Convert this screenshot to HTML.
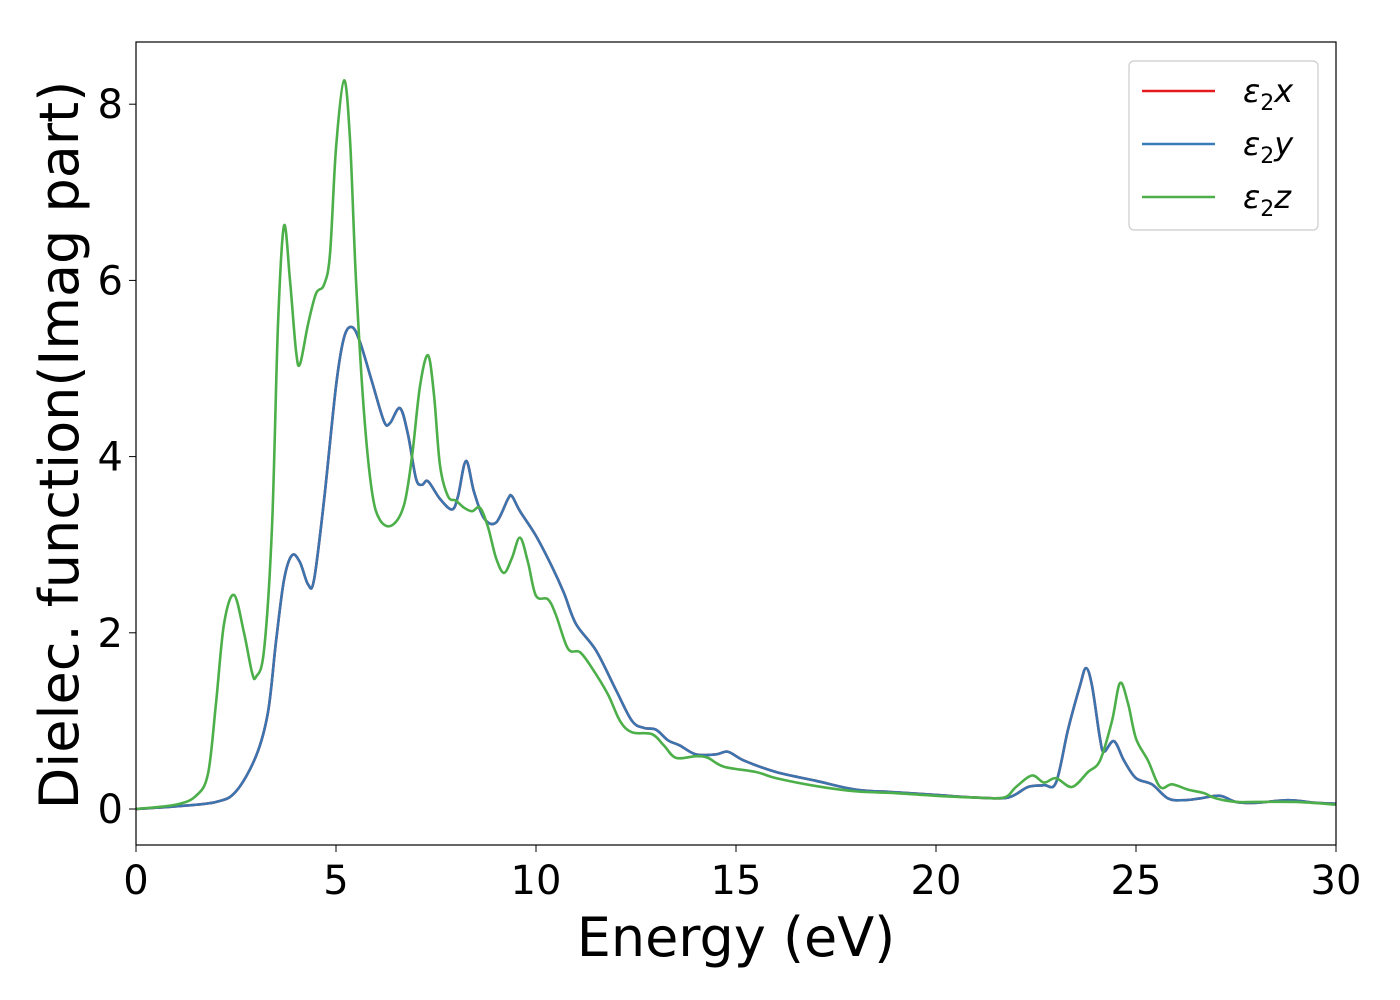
<!DOCTYPE html>
<html><head><meta charset="utf-8"><style>
body{margin:0;background:#fff;}
svg{display:block;font-family:"DejaVu Sans","Liberation Sans",sans-serif;}
</style></head><body>
<svg id="chart" width="1400" height="1000" xmlns="http://www.w3.org/2000/svg">
<g id="series"></g>
<rect x="136" y="42" width="1200" height="803" fill="none" stroke="#000" stroke-width="1.2"/>
<g id="xticks"></g>
<g id="yticks"></g>
<text x="736" y="956" font-size="54" text-anchor="middle">Energy (eV)</text>
<text transform="translate(78,445) rotate(-90)" font-size="54" text-anchor="middle">Dielec. function(Imag part)</text>
<g>
<rect x="1129" y="61" width="189" height="169" rx="5" fill="#fff" stroke="#ccc" stroke-width="1.2"/>
<line x1="1142" y1="91" x2="1215" y2="91" stroke="#e41a1c" stroke-width="2.5"/>
<text x="1243" y="102" font-size="32" font-style="italic">ε<tspan font-size="22" dy="8" font-style="normal">2</tspan><tspan dy="-8">x</tspan></text>
<line x1="1142" y1="144" x2="1215" y2="144" stroke="#377eb8" stroke-width="2.5"/>
<text x="1243" y="155" font-size="32" font-style="italic">ε<tspan font-size="22" dy="8" font-style="normal">2</tspan><tspan dy="-8">y</tspan></text>
<line x1="1142" y1="197" x2="1215" y2="197" stroke="#4daf4a" stroke-width="2.5"/>
<text x="1243" y="208" font-size="32" font-style="italic">ε<tspan font-size="22" dy="8" font-style="normal">2</tspan><tspan dy="-8">z</tspan></text>
</g>
</svg>
<script>
const xTicks=[0,5,10,15,20,25,30];
const yTicks=[0,2,4,6,8];
const energyXY=[0,1,2,2.5,3,3.3,3.5,3.7,3.9,4.1,4.3,4.45,4.7,5.0,5.2,5.4,5.6,5.9,6.2,6.35,6.6,6.8,7.0,7.15,7.3,7.6,7.9,8.05,8.25,8.45,8.7,9.0,9.3,9.4,9.6,10.0,10.4,10.7,11.0,11.5,12.0,12.4,12.7,13.0,13.3,13.6,14.0,14.5,14.8,15.2,16,17,18,19,20,21,21.8,22.3,22.7,23.0,23.3,23.6,23.75,23.9,24.1,24.2,24.45,24.7,25.0,25.4,25.8,26.2,26.6,27.1,27.5,28,28.8,29.5,30];
const epsX=[0,0.03,0.08,0.2,0.6,1.1,1.9,2.6,2.88,2.8,2.55,2.6,3.5,4.8,5.35,5.47,5.3,4.85,4.4,4.38,4.55,4.25,3.75,3.68,3.72,3.52,3.4,3.55,3.95,3.6,3.3,3.25,3.52,3.55,3.38,3.1,2.75,2.45,2.1,1.8,1.35,1.0,0.92,0.9,0.78,0.72,0.62,0.62,0.65,0.55,0.42,0.32,0.22,0.19,0.16,0.13,0.13,0.25,0.27,0.3,0.9,1.4,1.6,1.4,0.8,0.65,0.77,0.55,0.35,0.28,0.12,0.1,0.12,0.15,0.08,0.07,0.1,0.07,0.06];
const epsY=[0,0.03,0.08,0.2,0.6,1.1,1.9,2.6,2.88,2.8,2.55,2.6,3.5,4.8,5.35,5.47,5.3,4.85,4.4,4.38,4.55,4.25,3.75,3.68,3.72,3.52,3.4,3.55,3.95,3.6,3.3,3.25,3.52,3.55,3.38,3.1,2.75,2.45,2.1,1.8,1.35,1.0,0.92,0.9,0.78,0.72,0.62,0.62,0.65,0.55,0.42,0.32,0.22,0.19,0.16,0.13,0.13,0.25,0.27,0.3,0.9,1.4,1.6,1.4,0.8,0.65,0.77,0.55,0.35,0.28,0.12,0.1,0.12,0.15,0.08,0.07,0.1,0.07,0.06];
const energyZ=[0,1,1.5,1.8,2.0,2.2,2.45,2.7,2.9,3.0,3.2,3.4,3.55,3.7,3.85,4.0,4.1,4.3,4.5,4.7,4.85,5.0,5.2,5.35,5.5,5.7,5.9,6.1,6.4,6.7,6.9,7.1,7.3,7.45,7.6,7.8,8.0,8.2,8.4,8.6,8.8,9.0,9.2,9.4,9.6,9.8,10.0,10.3,10.5,10.8,11.1,11.4,11.8,12.1,12.4,12.9,13.2,13.5,14.0,14.3,14.7,15.5,16,17,18,19,20,21,21.7,22.0,22.4,22.7,23.0,23.4,23.8,24.1,24.4,24.6,24.8,25.0,25.3,25.6,25.9,26.3,26.7,27.0,27.5,28,29,30];
const epsZ=[0,0.05,0.15,0.4,1.2,2.1,2.43,2.0,1.55,1.5,1.8,3.2,5.5,6.62,6.0,5.2,5.05,5.5,5.85,5.95,6.3,7.5,8.27,7.6,6.0,4.5,3.6,3.28,3.22,3.45,4.0,4.8,5.15,4.7,3.9,3.55,3.5,3.42,3.38,3.42,3.2,2.85,2.68,2.85,3.08,2.8,2.42,2.38,2.2,1.82,1.78,1.6,1.3,1.0,0.87,0.85,0.72,0.58,0.6,0.58,0.48,0.42,0.35,0.26,0.2,0.18,0.15,0.13,0.13,0.25,0.38,0.3,0.35,0.25,0.42,0.55,1.0,1.43,1.2,0.8,0.55,0.25,0.28,0.22,0.18,0.12,0.08,0.08,0.08,0.05];

const NS='http://www.w3.org/2000/svg';
const xs=e=>136+40*e;
const ys=v=>809-88.1*v;
function pathFor(E,V){
  const p=E.map((e,i)=>[xs(e),ys(V[i])]);
  let d='M'+p[0][0]+','+p[0][1];
  for(let i=0;i<p.length-1;i++){
    const p0=p[i-1]||p[i],p1=p[i],p2=p[i+1],p3=p[i+2]||p2;
    const c1=[p1[0]+(p2[0]-p0[0])/6,p1[1]+(p2[1]-p0[1])/6];
    const c2=[p2[0]-(p3[0]-p1[0])/6,p2[1]-(p3[1]-p1[1])/6];
    d+=' C'+c1.join(',')+' '+c2.join(',')+' '+p2.join(',');
  }
  return d;
}
const g=document.getElementById('series');
[[energyXY,epsX,'#e41a1c','series-eps2-x'],[energyXY,epsY,'#3b75af','series-eps2-y'],[energyZ,epsZ,'#4daf4a','series-eps2-z']].forEach(s=>{
  const el=document.createElementNS(NS,'path');
  el.setAttribute('d',pathFor(s[0],s[1]));
  el.setAttribute('fill','none');el.setAttribute('stroke',s[2]);el.setAttribute('stroke-width','2.6');
  
  
  g.appendChild(el);
});
const xg=document.getElementById('xticks');
xTicks.forEach(t=>{
  const l=document.createElementNS(NS,'line');
  l.setAttribute('x1',xs(t));l.setAttribute('x2',xs(t));l.setAttribute('y1',845);l.setAttribute('y2',852);l.setAttribute('stroke','#000');
  
  
  xg.appendChild(l);
  const tx=document.createElementNS(NS,'text');
  tx.setAttribute('x',xs(t));tx.setAttribute('y',894);tx.setAttribute('font-size','40');tx.setAttribute('text-anchor','middle');
  tx.textContent=t;
  
  
  xg.appendChild(tx);
});
const yg=document.getElementById('yticks');
yTicks.forEach(t=>{
  const l=document.createElementNS(NS,'line');
  l.setAttribute('x1',129);l.setAttribute('x2',136);l.setAttribute('y1',ys(t));l.setAttribute('y2',ys(t));l.setAttribute('stroke','#000');
  
  
  yg.appendChild(l);
  const tx=document.createElementNS(NS,'text');
  tx.setAttribute('x',123);tx.setAttribute('y',ys(t)+14);tx.setAttribute('font-size','40');tx.setAttribute('text-anchor','end');
  tx.textContent=t;
  
  
  yg.appendChild(tx);
});
</script>
</body></html>
